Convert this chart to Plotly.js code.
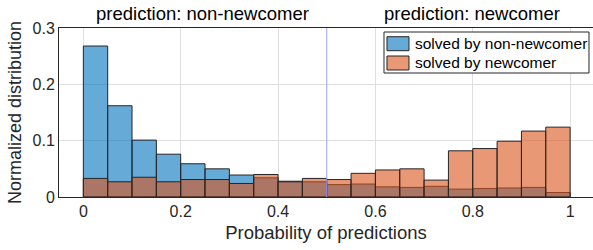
<!DOCTYPE html>
<html>
<head>
<meta charset="utf-8">
<script src="https://cdn.plot.ly/plotly-3.0.1.min.js"></script>
<style>html,body{margin:0;padding:0;background:#fff;}#chart{width:593px;height:250px;}</style>
</head>
<body>
<div id="chart"></div>
<script>
// Bin edges of the histogram (probability of predictions)
const binEdges = [0, 0.05, 0.1, 0.15, 0.2, 0.25, 0.3, 0.35, 0.4, 0.45, 0.5,
                  0.55, 0.6, 0.65, 0.7, 0.75, 0.8, 0.85, 0.9, 0.95, 1.0];
// Normalized distribution, solved by non-newcomer
const nonNewcomer = [0.268, 0.162, 0.101, 0.076, 0.059, 0.050, 0.039, 0.034, 0.028, 0.027,
                     0.022, 0.023, 0.018, 0.017, 0.019, 0.014, 0.015, 0.016, 0.017, 0.008];
// Normalized distribution, solved by newcomer
const newcomer = [0.033, 0.027, 0.035, 0.027, 0.031, 0.031, 0.024, 0.040, 0.027, 0.033,
                  0.031, 0.042, 0.048, 0.050, 0.030, 0.082, 0.086, 0.099, 0.117, 0.124];
const seriesNames = ['solved by non-newcomer', 'solved by newcomer'];
const xTickVals = [0, 0.2, 0.4, 0.6, 0.8, 1];
const xTickText = ['0', '0.2', '0.4', '0.6', '0.8', '1'];
const yTickVals = [0, 0.1, 0.2, 0.3];
const yTickText = ['0', '0.1', '0.2', '0.3'];
const threshold = 0.5;
const regionLabels = ['prediction: non-newcomer', 'prediction: newcomer'];

const centers = binEdges.slice(0, -1).map((e, i) => (e + binEdges[i + 1]) / 2);
const widths = binEdges.slice(0, -1).map((e, i) => binEdges[i + 1] - e);

const blueFill = 'rgba(0,114,189,0.6)';
const orangeFill = 'rgba(217,83,25,0.6)';
const edge = 'rgb(38,38,38)';
const font = 'Liberation Sans, Arial, Helvetica, sans-serif';

const traces = [
  {type: 'bar', x: centers, y: nonNewcomer, width: widths, name: seriesNames[0],
   marker: {color: blueFill, line: {color: edge, width: 1}}, showlegend: false, hoverinfo: 'x+y'},
  {type: 'bar', x: centers, y: newcomer, width: widths, name: seriesNames[1],
   marker: {color: orangeFill, line: {color: edge, width: 1}}, showlegend: false, hoverinfo: 'x+y'}
];

// custom legend (paper coordinates of the plot area)
const lg = {x0: 0.6086, x1: 0.9925, y0: 0.7337, y1: 0.9763};
const rows = [{y0: 0.8657, y1: 0.9485, yc: 0.9083, fill: 'rgb(102,170,215)'},
              {y0: 0.7515, y1: 0.8343, yc: 0.7959, fill: 'rgb(232,152,117)'}];

const shapes = [
  {type: 'line', xref: 'x', yref: 'paper', x0: threshold, x1: threshold, y0: 0, y1: 1,
   line: {color: 'rgb(160,160,255)', width: 1}, layer: 'above'},
  {type: 'rect', xref: 'paper', yref: 'paper', x0: lg.x0, x1: lg.x1, y0: lg.y0, y1: lg.y1,
   fillcolor: 'white', line: {color: edge, width: 1}, layer: 'above'}
];
const annotations = [
  {text: regionLabels[0], xref: 'x', yref: 'paper', x: 0.244, y: 1.083, showarrow: false,
   xanchor: 'center', yanchor: 'middle', font: {family: font, size: 18.5, color: '#000'}},
  {text: regionLabels[1], xref: 'x', yref: 'paper', x: 0.798, y: 1.083, showarrow: false,
   xanchor: 'center', yanchor: 'middle', font: {family: font, size: 18.5, color: '#000'}}
];
rows.forEach((r, i) => {
  shapes.push({type: 'rect', xref: 'paper', yref: 'paper', x0: 0.6142, x1: 0.6554, y0: r.y0, y1: r.y1,
    fillcolor: r.fill, line: {color: edge, width: 1}, layer: 'above'});
  annotations.push({text: seriesNames[i], xref: 'paper', yref: 'paper', x: 0.6624, y: r.yc,
    xanchor: 'left', yanchor: 'middle', showarrow: false,
    font: {family: font, size: 15.5, color: '#000'}});
});

const layout = {
  width: 593, height: 250,
  margin: {l: 59, r: 0, t: 28, b: 53},
  paper_bgcolor: 'white', plot_bgcolor: 'white',
  barmode: 'overlay', bargap: 0,
  showlegend: false,
  font: {family: font, color: '#262626'},
  xaxis: {range: [-0.05, 1.047], tickvals: xTickVals, ticktext: xTickText,
          showgrid: true, gridcolor: 'rgb(223,223,223)', gridwidth: 1, zeroline: false,
          showline: true, mirror: true, linecolor: edge, linewidth: 1, ticks: '',
          tickfont: {family: font, size: 16, color: '#262626'},
          title: {text: 'Probability of predictions', font: {family: font, size: 18.5, color: '#262626'}, standoff: 6},
          automargin: false},
  yaxis: {range: [0, 0.3], tickvals: yTickVals, ticktext: yTickText,
          showgrid: true, gridcolor: 'rgb(223,223,223)', gridwidth: 1, zeroline: false,
          showline: true, mirror: true, linecolor: edge, linewidth: 1, ticks: '',
          tickfont: {family: font, size: 16, color: '#262626'},
          title: {text: 'Normalized distribution', font: {family: font, size: 18, color: '#262626'}, standoff: 6},
          automargin: false},
  shapes: shapes,
  annotations: annotations
};

Plotly.newPlot('chart', traces, layout, {displayModeBar: false, staticPlot: true});
</script>
</body>
</html>
